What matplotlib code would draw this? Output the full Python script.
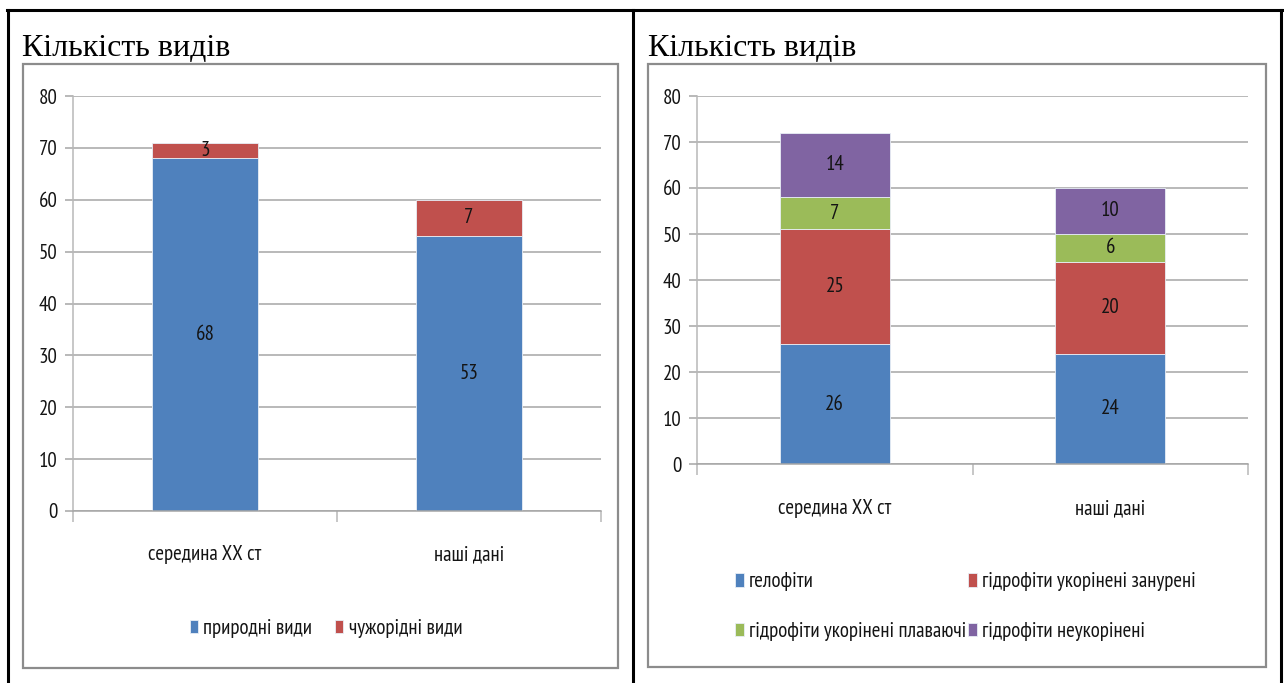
import matplotlib
matplotlib.use("Agg")
import matplotlib.pyplot as plt
from matplotlib.patches import Rectangle
from matplotlib.lines import Line2D
import matplotlib.transforms as mtransforms
import numpy as np

plt.rcParams['font.family'] = ['PT Sans Narrow', 'Roboto Condensed', 'DejaVu Sans']

# ---- data ----
periods = ["середина ХХ ст", "наші дані"]
title_text = "Кількість видів"

origin_names = ["природні види", "чужорідні види"]
native_counts = [68, 53]
alien_counts = [3, 7]

eco_names = ["гелофіти", "гідрофіти укорінені занурені",
             "гідрофіти укорінені плаваючі", "гідрофіти неукорінені"]
helophytes = [26, 24]
rooted_submerged = [25, 20]
rooted_floating = [7, 6]
unrooted = [14, 10]

y_ticks = [0, 10, 20, 30, 40, 50, 60, 70, 80]

# ---- style ----
BLUE, RED, GREEN, PURPLE = "#4F81BD", "#C0504D", "#9BBB59", "#8064A2"
GRID = "#a6a6a6"
AXIS = "#b8b8b8"
FRAME = "#8c8c8c"
TXT = "#141414"
FS = 15
W, H = 1284, 683

fig = plt.figure(figsize=(W / 100, H / 100), dpi=100)


def fx(x):
    return x / W


def fy(y):
    return 1 - y / H


def box(x0, y0, x1, y1, **kw):
    fig.add_artist(Rectangle((fx(x0), fy(y1)), fx(x1) - fx(x0), fy(y0) - fy(y1),
                             transform=fig.transFigure, fill=False, **kw))


def vline(x, y0, y1, **kw):
    fig.add_artist(Line2D([fx(x), fx(x)], [fy(y0), fy(y1)], transform=fig.transFigure, **kw))


def hline(y, x0, x1, **kw):
    fig.add_artist(Line2D([fx(x0), fx(x1)], [fy(y), fy(y)], transform=fig.transFigure, **kw))


# table frame around both panels
hline(10, 7, 1283, color="black", lw=2.2)
vline(8, 10, H + 5, color="black", lw=2.2)
vline(633, 10, H + 5, color="black", lw=2.2)
vline(1281, 10, H + 5, color="black", lw=2.2)

# chart frames
box(23, 64, 618, 668, edgecolor=FRAME, lw=1.6)
box(648, 64, 1266, 667, edgecolor=FRAME, lw=1.6)

# panel titles
for x0 in (22, 648):
    fig.text(fx(x0), fy(56), title_text, family="Liberation Serif", fontsize=23,
             color="black", va="baseline", ha="left")


def make_axes(x0, x1, y_top, y_bot):
    ax = fig.add_axes([fx(x0), fy(y_bot), fx(x1) - fx(x0), fy(y_top) - fy(y_bot)])
    ax.set_xlim(-0.5, 1.5)
    ax.set_ylim(0, 80)
    ax.set_yticks(y_ticks)
    ax.set_yticklabels([str(t) for t in y_ticks], fontsize=FS, color=TXT)
    ax.yaxis.grid(True, color=GRID, lw=1.1)
    ax.set_axisbelow(True)
    for s in ("top", "right"):
        ax.spines[s].set_visible(False)
    ax.spines["left"].set_color(AXIS)
    ax.spines["left"].set_linewidth(1.1)
    ax.spines["bottom"].set_color(GRID)
    ax.spines["bottom"].set_linewidth(1.1)
    ax.tick_params(axis="y", length=6, width=1.1, color=GRID, pad=5)
    # category boundary ticks
    ax.set_xticks([-0.5, 0.5, 1.5])
    ax.set_xticklabels([])
    ax.tick_params(axis="x", length=8, width=1.1, color=AXIS)
    ax.set_facecolor("none")
    return ax


def stack(ax, series, colors, labels):
    x = np.arange(len(periods))
    bottom = np.zeros(len(periods))
    for vals, c, lab in zip(series, colors, labels):
        vals = np.array(vals, dtype=float)
        bars = ax.bar(x, vals, 0.4, bottom=bottom, color=c, label=lab, zorder=2,
                      edgecolor="#e8eef6", linewidth=0.6)
        for b, v, b0 in zip(bars, vals, bottom):
            ax.text(b.get_x() + b.get_width() / 2, b0 + v / 2, f"{int(v)}",
                    ha="center", va="center", fontsize=FS, color=TXT, zorder=3)
        bottom += vals


def category_labels(ax, y_px):
    trans = mtransforms.blended_transform_factory(ax.transData, fig.transFigure)
    for i, name in enumerate(periods):
        ax.text(i, fy(y_px), name, transform=trans, ha="center", va="center",
                fontsize=FS, color=TXT)


legend_kw = dict(frameon=False, fontsize=FS, handlelength=0.4, handleheight=0.6,
                 handletextpad=0.25, borderpad=0, labelcolor=TXT, ncol=2)

# left chart: native vs alien species
ax1 = make_axes(73, 601, 96, 511)
stack(ax1, [native_counts, alien_counts], [BLUE, RED], origin_names)
category_labels(ax1, 555)
ax1.legend(loc="center", bbox_to_anchor=(fx(326), fy(628)), bbox_transform=fig.transFigure,
           columnspacing=1.1, **legend_kw)

# right chart: ecological groups
ax2 = make_axes(697, 1248, 96, 464)
stack(ax2, [helophytes, rooted_submerged, rooted_floating, unrooted],
      [BLUE, RED, GREEN, PURPLE], eco_names)
category_labels(ax2, 509)
# order the entries row by row: (0, 1) on top, (2, 3) below
h, l = ax2.get_legend_handles_labels()
order = [0, 2, 1, 3]
ax2.legend([h[i] for i in order], [l[i] for i in order], loc="upper left",
           bbox_to_anchor=(fx(725), fy(562)), bbox_transform=fig.transFigure,
           columnspacing=0.1, labelspacing=1.45, **legend_kw)

fig.savefig("out.png", dpi=100, facecolor="white")
